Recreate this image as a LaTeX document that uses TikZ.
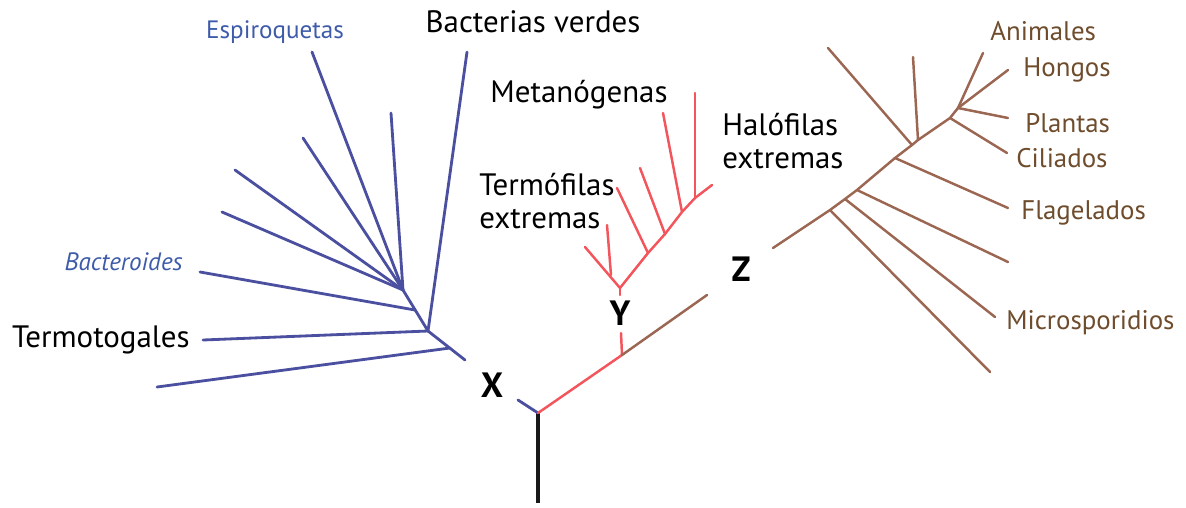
\documentclass[tikz,border=0pt]{standalone}
\usepackage{fontspec}
\setmainfont{PT Sans}
\definecolor{bl}{HTML}{4B4FA0}
\definecolor{bltext}{HTML}{3D5BA9}
\definecolor{rd}{HTML}{F2555C}
\definecolor{br}{HTML}{9B6652}
\definecolor{brtext}{HTML}{6E4C2C}
\begin{document}
\begin{tikzpicture}[x=0.02cm,y=-0.02cm,
  blueline/.style={draw=bl,line width=1.6pt,line cap=round},
  redline/.style={draw=rd,line width=1.4pt,line cap=round},
  brownline/.style={draw=br,line width=1.4pt,line cap=round},
  rootline/.style={draw=black!90,line width=1.8pt},
  lab/.style={font=\fontsize{17.6}{18.7}\selectfont,inner sep=0pt,text=black},
  bllab/.style={font=\fontsize{14.3}{16}\selectfont,inner sep=0pt,text=bltext},
  brlab/.style={font=\fontsize{15.3}{17}\selectfont,inner sep=0pt,text=brtext,anchor=west},
  bigl/.style={font=\bfseries\fontsize{20}{22}\selectfont,inner sep=0pt,text=black}]
\useasboundingbox (0,0) rectangle (1186,507);
% ---------- coordinates ----------
\coordinate (root) at (538,413);
\coordinate (rootbot) at (538,503);
\coordinate (xs) at (518,400);
% blue
\coordinate (h1) at (403,290);
\coordinate (h2) at (428,331);
\coordinate (bend) at (465,360);
\coordinate (jf) at (415,310);
\coordinate (jh) at (450,348);
\coordinate (tbv) at (467,52);
\coordinate (tesp) at (312,52);
\coordinate (tb2) at (391,113);
\coordinate (tb3) at (303,138);
\coordinate (tb4) at (235,170);
\coordinate (tb5) at (222,212);
\coordinate (tb6) at (200,272);
\coordinate (ttt) at (203,340);
\coordinate (tb8) at (157,387);
% red
\coordinate (r1) at (622,355);
\coordinate (r2) at (621,333);
\coordinate (yj) at (620,288);
\coordinate (ys) at (620,295);
\coordinate (tl) at (585,247);
\coordinate (jl) at (611,275);
\coordinate (tev) at (607,225);
\coordinate (m1) at (648,253);
\coordinate (m2) at (665,234);
\coordinate (m3) at (682,212);
\coordinate (m4) at (695,198);
\coordinate (mtop) at (712,185);
\coordinate (tm1) at (617,188);
\coordinate (tm2) at (640,168);
\coordinate (tm3) at (663,113);
\coordinate (tm4) at (695,93);
% brown
\coordinate (bz) at (707,295);
\coordinate (z0) at (773,248);
\coordinate (j1) at (830,210);
\coordinate (j2) at (845,199);
\coordinate (j3) at (857,190);
\coordinate (j4) at (895,158);
\coordinate (j5) at (912,145);
\coordinate (j5b) at (918,140);
\coordinate (j6) at (950,118);
\coordinate (j7) at (958,108);
\coordinate (tbot) at (990,372);
\coordinate (tmic) at (995,317);
\coordinate (tun) at (1008,262);
\coordinate (tfla) at (1008,208);
\coordinate (tul) at (828,48);
\coordinate (tver) at (913,57);
\coordinate (tcil) at (1007,153);
\coordinate (tani) at (983,53);
\coordinate (thon) at (1008,70);
\coordinate (tpla) at (1008,118);
% ---------- lines ----------
\draw[rootline] (root) -- (rootbot);
\draw[blueline] (xs) -- (root);
\draw[redline] (root) -- (r1);
\draw[redline] (r1) -- (r2);
\draw[brownline] (r1) -- (bz);
% blue tree
\draw[blueline] (h1) -- (h2) -- (bend);
\draw[blueline] (tbv) -- (h2);
\draw[blueline] (tesp) -- (h1);
\draw[blueline] (tb2) -- (h1);
\draw[blueline] (tb3) -- (h1);
\draw[blueline] (tb4) -- (h1);
\draw[blueline] (tb5) -- (h1);
\draw[blueline] (tb6) -- (jf);
\draw[blueline] (ttt) -- (h2);
\draw[blueline] (tb8) -- (jh);
% red tree
\draw[redline] (yj) -- (ys);
\draw[redline] (tl) -- (yj);
\draw[redline] (tev) -- (jl);
\draw[redline] (yj) -- (m1) -- (m2) -- (m3) -- (m4) -- (mtop);
\draw[redline] (tm1) -- (m1);
\draw[redline] (tm2) -- (m2);
\draw[redline] (tm3) -- (m3);
\draw[redline] (tm4) -- (m4);
% brown tree
\draw[brownline] (z0) -- (j1) -- (j2) -- (j3) -- (j4) -- (j5) -- (j5b) -- (j6) -- (j7);
\draw[brownline] (j1) -- (tbot);
\draw[brownline] (j2) -- (tmic);
\draw[brownline] (j3) -- (tun);
\draw[brownline] (j4) -- (tfla);
\draw[brownline] (tul) -- (j5);
\draw[brownline] (tver) -- (j5b);
\draw[brownline] (j6) -- (tcil);
\draw[brownline] (j7) -- (tani);
\draw[brownline] (j7) -- (thon);
\draw[brownline] (j7) -- (tpla);
% ---------- labels ----------
\node[lab] (lbv) at (533,22) {Bacterias verdes};
\node[bllab] (lesp) at (275,32) {Espiroquetas};
\node[bllab,font=\itshape\fontsize{14.3}{16}\selectfont,anchor=east] (lbac) at (183,262) {Bacteroides};
\node[lab,anchor=east] (ltt) at (190,340) {Termotogales};
\node[lab] (lmet) at (579,95) {Metanógenas};
\node[lab,anchor=west,align=left] (lter) at (479,201) {Termófilas\\extremas};
\node[lab,anchor=west,align=left] (lhal) at (722,141) {Halófilas\\extremas};
\node[bigl] (lx) at (492,385) {X};
\node[bigl] (ly) at (620,313) {Y};
\node[bigl] (lz) at (741,269) {Z};
\node[brlab] (lani) at (990,31) {Animales};
\node[brlab] (lhon) at (1023,70) {Hongos};
\node[brlab] (lpla) at (1025,123) {Plantas};
\node[brlab] (lcil) at (1016,158) {Ciliados};
\node[brlab] (lfla) at (1021,213) {Flagelados};
\node[brlab] (lmic) at (1006,323) {Microsporidios};
\end{tikzpicture}
\end{document}
